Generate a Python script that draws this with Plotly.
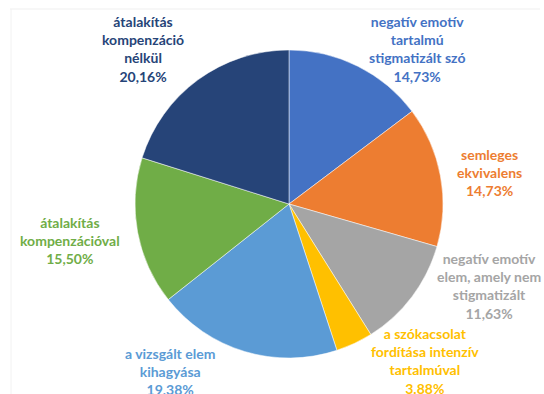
import plotly.graph_objects as go

# Category labels (multi-line), shares in percent and slice colours
labels = [
    "negatív emotív<br>tartalmú<br>stigmatizált szó",
    "semleges<br>ekvivalens",
    "negatív emotív<br>elem, amely nem<br>stigmatizált",
    "a szókacsolat<br>fordítása intenzív<br>tartalmúval",
    "a vizsgált elem<br>kihagyása",
    "átalakítás<br>kompenzációval",
    "átalakítás<br>kompenzáció<br>nélkül",
]
values = [14.73, 14.73, 11.63, 3.88, 19.38, 15.50, 20.16]
colors = ["#4472C4", "#ED7D31", "#A5A5A5", "#FFC000", "#5B9BD5", "#70AD47", "#264478"]
# decimal separator used in each label's percentage
decimal_sep = [",", ",", ",", ".", ",", ",", ","]

# label anchor positions (pixels from the top-left corner of the canvas)
W, H = 544, 394
label_px = [
    (417, 49),
    (489, 172),
    (489, 286),
    (425, 361),
    (170, 371),
    (70, 240),
    (143, 49),
]

fig = go.Figure(
    go.Pie(
        labels=[l.replace("<br>", " ") for l in labels],
        values=values,
        sort=False,
        direction="clockwise",
        rotation=0,
        marker=dict(colors=colors, line=dict(color="white", width=0.5)),
        textinfo="none",
        hoverinfo="label+percent",
        showlegend=False,
        domain=dict(x=[135 / W, 443 / W], y=[1 - 358 / H, 1 - 50 / H]),
    )
)

for lab, val, col, sep, (px, py) in zip(labels, values, colors, decimal_sep, label_px):
    pct = f"{val:.2f}".replace(".", sep) + "%"
    fig.add_annotation(
        x=px / W, y=1 - py / H, xref="paper", yref="paper",
        text=f"<b>{lab}<br>{pct}</b>",
        showarrow=False, align="center",
        xanchor="center", yanchor="middle",
        font=dict(family="Lato", size=14, color=col),
    )

# faint chart-area frame
fig.add_shape(type="line", xref="paper", yref="paper",
              x0=10 / W, x1=540 / W, y0=1 - 9 / H, y1=1 - 9 / H,
              line=dict(color="#EFEFEF", width=1))
fig.add_shape(type="line", xref="paper", yref="paper",
              x0=11 / W, x1=11 / W, y0=1 - 9 / H, y1=0,
              line=dict(color="#F2F2F2", width=1))

fig.update_layout(
    width=W, height=H,
    margin=dict(l=0, r=0, t=0, b=0),
    paper_bgcolor="white",
    plot_bgcolor="white",
)

fig.write_html("out.html")
